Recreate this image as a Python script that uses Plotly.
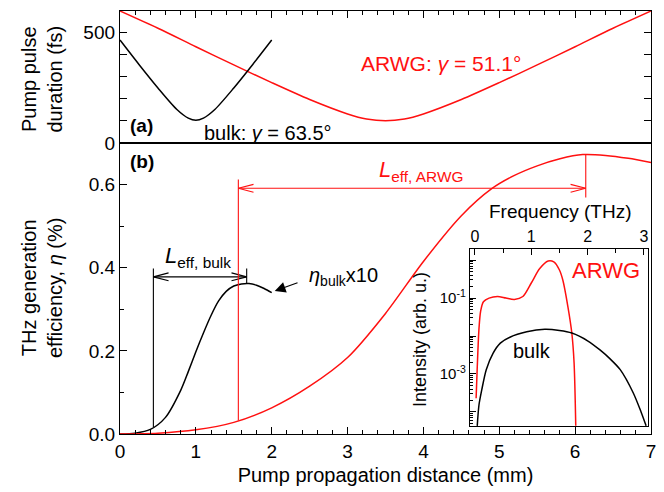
import numpy as np
import plotly.graph_objects as go

# ---------------- data ----------------
# (a) pump pulse duration (fs) vs distance (mm)
tau_x_arwg = [0, 0.5, 1, 1.5, 2, 2.5, 3, 3.25, 3.5, 3.75, 4, 4.5, 5, 5.5, 6, 6.5, 7]
tau_arwg = [595, 517, 434, 352, 272, 196, 131, 108, 100, 108, 131, 196, 272, 352, 434, 517, 595]
tau_x_bulk = [0, 0.25, 0.5, 0.75, 0.9, 1.0, 1.1, 1.25, 1.5, 1.75, 2.0]
tau_bulk = [464, 354, 248, 151, 112, 102, 112, 151, 248, 354, 464]

# (b) THz generation efficiency (%)
eta_x_bulk = [0, 0.2, 0.4, 0.6, 0.8, 0.9, 1.0, 1.1, 1.2, 1.3, 1.4, 1.5, 1.6, 1.7, 1.8, 1.9, 2.0]
eta_bulk_x10 = [0, 0.002, 0.011, 0.040, 0.105, 0.150, 0.198, 0.243, 0.285, 0.320, 0.343,
                0.356, 0.361, 0.362, 0.358, 0.350, 0.340]
eta_x_arwg = [0, 0.5, 1.0, 1.5, 2.0, 2.5, 3.0, 3.5, 4.0, 4.5, 4.9, 5.2, 5.5, 5.8, 6.1, 6.4, 6.7, 7.0]
eta_arwg = [0, 0.002, 0.010, 0.028, 0.063, 0.115, 0.184, 0.290, 0.415, 0.525, 0.590, 0.622,
            0.645, 0.662, 0.672, 0.670, 0.663, 0.653]

# effective lengths (mm) and their marker heights
leff_bulk = [0.44, 1.67]
leff_bulk_y = 0.378
leff_bulk_top = 0.398
leff_arwg = [1.56, 6.14]
leff_arwg_y = 0.591
leff_arwg_left_top = 0.612
leff_arwg_right_bottom = 0.569

# inset: THz spectra
freq_arwg = [0.02, 0.04, 0.07, 0.10, 0.15, 0.25, 0.40, 0.55, 0.70, 0.85, 1.00, 1.15, 1.30,
             1.40, 1.50, 1.56, 1.65, 1.72, 1.76, 1.79]
spec_arwg = [2.3e-4, 1.5e-3, 0.015, 0.045, 0.08, 0.10, 0.11, 0.10, 0.092, 0.11, 0.25, 0.6,
             0.95, 0.9, 0.55, 0.3, 0.06, 0.012, 0.002, 4.3e-5]
freq_bulk = [0.04, 0.07, 0.12, 0.2, 0.32, 0.45, 0.62, 0.92, 1.24, 1.5, 1.72, 2.0, 2.22, 2.4,
             2.58, 2.81, 2.95, 3.04]
spec_bulk = [4.3e-5, 1.5e-4, 3.8e-4, 1.3e-3, 3.5e-3, 6.5e-3, 9.3e-3, 1.29e-2, 1.5e-2, 1.4e-2,
             1.2e-2, 7.5e-3, 4.3e-3, 2.5e-3, 1.3e-3, 3.2e-4, 1.0e-4, 4.3e-5]

# inset log-axis ticks
inset_major = [1e-4, 1e-3, 1e-2, 1e-1, 1]
inset_major_text = ["", "10<sup>-3</sup>", "", "10<sup>-1</sup>", ""]
inset_minor = [m * 10.0 ** e for e in range(-5, 0) for m in range(2, 10)]

# ---------------- styling ----------------
FONT = "Liberation Sans, Arial, sans-serif"
RED = "#ff1010"
BLK = "black"
LW = 1.5

fig = go.Figure()

def line(x, y, color, xa="x", ya="y", shape="spline", width=LW):
    fig.add_trace(go.Scatter(x=x, y=y, mode="lines", xaxis=xa, yaxis=ya,
                             line=dict(color=color, width=width, shape=shape, smoothing=0.8),
                             showlegend=False, hoverinfo="skip"))

# (a)
line(tau_x_arwg, tau_arwg, RED, "x2", "y2")
line(tau_x_bulk, tau_bulk, BLK, "x2", "y2")

# (b)
line(eta_x_bulk, eta_bulk_x10, BLK)
line(eta_x_arwg, eta_arwg, RED)

# effective-length markers
def chevrons(x0, x1, y, L, H):
    xs = [x0 + L, x0, x0 + L, None, x1 - L, x1, x1 - L]
    ys = [y + H, y, y - H, None, y + H, y, y - H]
    return xs, ys

b0 = float(np.interp(leff_bulk[0], eta_x_bulk, eta_bulk_x10))
b1 = float(np.interp(leff_bulk[1], eta_x_bulk, eta_bulk_x10))
cx, cy = chevrons(leff_bulk[0], leff_bulk[1], leff_bulk_y, 0.2, 0.0095)
bx = [leff_bulk[0], leff_bulk[0], None, leff_bulk[1], leff_bulk[1], None,
      leff_bulk[0], leff_bulk[1], None] + cx
by = [b0, leff_bulk_top, None, b1, leff_bulk_top, None,
      leff_bulk_y, leff_bulk_y, None] + cy
line(bx, by, BLK, shape="linear", width=1.1)

r0 = float(np.interp(leff_arwg[0], eta_x_arwg, eta_arwg))
r1 = float(np.interp(leff_arwg[1], eta_x_arwg, eta_arwg))
cx, cy = chevrons(leff_arwg[0], leff_arwg[1], leff_arwg_y, 0.2, 0.0095)
rx = [leff_arwg[0], leff_arwg[0], None, leff_arwg[1], leff_arwg[1], None,
      leff_arwg[0], leff_arwg[1], None] + cx
ry = [r0, leff_arwg_left_top, None, leff_arwg_right_bottom, r1, None,
      leff_arwg_y, leff_arwg_y, None] + cy
line(rx, ry, RED, shape="linear", width=1.1)

# inset
line(freq_arwg, spec_arwg, RED, "x3", "y3")
line(freq_bulk, spec_bulk, BLK, "x3", "y3")
# empty trace so the minor-tick overlay axis is drawn
fig.add_trace(go.Scatter(x=[None], y=[None], xaxis="x3", yaxis="y4", mode="lines",
                         showlegend=False, hoverinfo="skip"))

axis_common = dict(showline=True, linecolor="black", linewidth=1.3, ticks="inside",
                   tickcolor="black", showgrid=False, zeroline=False,
                   tickfont=dict(family=FONT, size=19, color="black"))

split = 0.688
inset_y_dom = [0.019, 0.437]
inset_y_rng = [-4.37, 0.29]
fig.update_layout(
    width=656, height=484,
    margin=dict(l=112, r=13, t=3, b=58),
    paper_bgcolor="white", plot_bgcolor="white",
    font=dict(family=FONT, color="black"),
    xaxis=dict(domain=[0, 1], anchor="y", range=[0, 7], dtick=1, ticklen=7, mirror=True,
               minor=dict(dtick=0.2, ticks="inside", ticklen=4, tickcolor="black"),
               title=dict(text="Pump propagation distance (mm)", standoff=7,
                          font=dict(family=FONT, size=20)),
               **axis_common),
    yaxis=dict(domain=[0, split], anchor="x", range=[0, 0.7], dtick=0.2, tickformat=".1f",
               ticklen=7, mirror=True,
               minor=dict(dtick=0.1, ticks="inside", ticklen=4, tickcolor="black"),
               **axis_common),
    xaxis2=dict(domain=[0, 1], anchor="y2", range=[0, 7], dtick=1, ticklen=7, side="top",
                showticklabels=False, mirror=True,
                minor=dict(dtick=0.2, ticks="inside", ticklen=4, tickcolor="black"),
                **axis_common),
    yaxis2=dict(domain=[split, 1], anchor="x2", range=[0, 595], tickvals=[0, 500],
                ticklen=7, mirror="ticks",
                minor=dict(dtick=100, ticks="inside", ticklen=7, tickcolor="black"),
                **axis_common),
    xaxis3=dict(domain=[0.659, 0.994], anchor="y3", range=[-0.09, 3.07], dtick=1, ticklen=6,
                side="top", mirror=True,
                minor=dict(dtick=0.5, ticks="inside", ticklen=4, tickcolor="black"),
                **{**axis_common, "tickfont": dict(family=FONT, size=16, color="black")}),
    yaxis3=dict(domain=inset_y_dom, anchor="x3", type="log", range=inset_y_rng,
                tickvals=inset_major, ticktext=inset_major_text, ticklen=6, mirror=True,
                **{**axis_common, "tickfont": dict(family=FONT, size=15, color="black")}),
    yaxis4=dict(overlaying="y3", anchor="x3", side="left", type="log", range=inset_y_rng,
                tickvals=inset_minor, showticklabels=False, ticks="inside", ticklen=3,
                tickcolor="black", showline=False, showgrid=False, zeroline=False),
)

def txt(x, y, text, size=20, color="black", xref="x", yref="y", xanchor="left",
        yanchor="middle", angle=0):
    fig.add_annotation(x=x, y=y, xref=xref, yref=yref, text=text, showarrow=False,
                       xanchor=xanchor, yanchor=yanchor, textangle=angle,
                       font=dict(family=FONT, size=size, color=color))

# panel (a) texts
txt(0.1, 80, "<b>(a)</b>", 19, xref="x2", yref="y2")
txt(1.08, 45, "bulk: <i>γ</i> = 63.5°", 20, xref="x2", yref="y2")
txt(3.15, 360, "ARWG: <i>γ</i> = 51.1°", 21, RED, xref="x2", yref="y2")

# panel (b) texts
txt(0.1, 0.655, "<b>(b)</b>", 19)
txt(1.03, 0.425, "<i>L</i><sub>eff, bulk</sub>", 22, xanchor="center")
txt(3.97, 0.632, "<i>L</i><sub>eff, ARWG</sub>", 22, RED, xanchor="center")
txt(2.47, 0.378, "<i>η</i><sub>bulk</sub>x10", 20)
fig.add_annotation(x=2.04, y=0.344, ax=2.36, ay=0.365, xref="x", yref="y", axref="x",
                   ayref="y", text="", showarrow=True, arrowhead=2, arrowsize=1.8,
                   arrowwidth=1.2, arrowcolor="black")

# inset texts
txt(2.33, -0.26, "ARWG", 22, RED, xref="x3", yref="y3", xanchor="center")
txt(1.01, -2.39, "bulk", 20, xref="x3", yref="y3", xanchor="center")
txt(0.829, 0.525, "Frequency (THz)", 19, xref="paper", yref="paper", xanchor="center")
txt(0.565, 0.222, "Intensity (arb. u.)", 18, xref="paper", yref="paper",
    xanchor="center", angle=-90)

# main y titles
txt(-0.147, 0.84, "Pump pulse<br>duration (fs)", 20, xref="paper", yref="paper",
    xanchor="center", angle=-90)
txt(-0.147, 0.345, "THz generation<br>efficiency, <i>η</i> (%)", 20, xref="paper",
    yref="paper", xanchor="center", angle=-90)

fig.write_html("out.html")
